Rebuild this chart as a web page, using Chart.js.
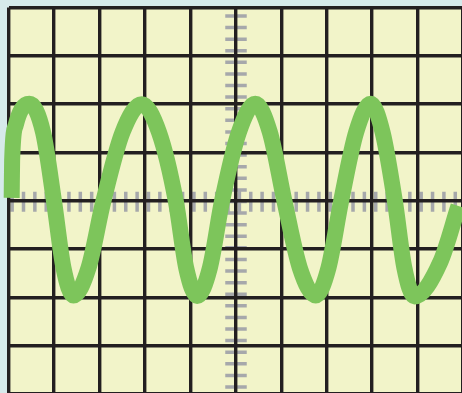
<!DOCTYPE html>
<html>
<head>
<meta charset="utf-8">
<script src="https://cdn.jsdelivr.net/npm/chart.js@4"></script>
<style>
  html, body { margin: 0; padding: 0; background: #d6eaeb; overflow: hidden; }
  #wrap { position: relative; width: 462px; height: 393px; overflow: hidden; }
  canvas { position: absolute; left: 0; top: 0; }
</style>
</head>
<body>
<div id="wrap"><canvas id="scope" width="480" height="410"></canvas></div>
<script>
// Trace samples: horizontal position in screen divisions, amplitude in vertical divisions
const timeDiv = [0.07, 0.08, 0.16, 0.29, 0.46, 0.76, 1.00, 1.21, 1.43, 1.76, 2.09, 2.51, 2.93,
                 3.31, 3.68, 3.91, 4.15, 4.43, 4.70, 5.07, 5.43, 5.75, 6.07, 6.41, 6.76, 7.04,
                 7.32, 7.65, 7.97, 8.23, 8.50, 8.71, 8.93, 9.50, 9.90];
const voltsDiv = [0.06, 0.84, 1.57, 1.90, 2.01, 1.42, 0.00, -1.39, -1.96, -1.39, 0.00, 1.42, 2.00,
                  1.42, 0.00, -1.39, -1.97, -1.39, 0.00, 1.42, 2.01, 1.42, 0.00, -1.39, -1.96, -1.39,
                  0.00, 1.42, 2.01, 1.42, 0.00, -1.39, -1.98, -1.27, -0.11];

// Graticule: 10 x 8 divisions
const xRange = [0, 10];
const yRange = [-4, 4];
const xCentre = 5;
const yCentre = 0;

// Minor marks along the centre axes
const xMinorStart = 0.08, xMinorStep = 0.25, xMinorCount = 40;
const yMinorStart = 3.825, yMinorStep = -0.24, yMinorCount = 33;

const tracePoints = timeDiv.map((t, i) => ({ x: t, y: voltsDiv[i] }));

// Screen face and centre-axis minor marks, painted beneath the grid lines
const screenFace = {
  id: 'screenFace',
  beforeDraw(chart) {
    const { ctx, chartArea: a, scales: { x, y } } = chart;
    ctx.save();
    ctx.fillStyle = '#d6eaeb';
    ctx.fillRect(0, 0, chart.width, chart.height);
    ctx.fillStyle = '#f2f4c9';
    ctx.fillRect(a.left, a.top, a.right - a.left, a.bottom - a.top);

    ctx.strokeStyle = '#a6a8ab';
    ctx.lineWidth = 3.5;
    ctx.lineCap = 'butt';
    const cy = y.getPixelForValue(yCentre);
    const cx = x.getPixelForValue(xCentre);
    ctx.beginPath();
    for (let k = 0; k < xMinorCount; k++) {
      const px = x.getPixelForValue(xMinorStart + k * xMinorStep);
      ctx.moveTo(px, cy - 9);
      ctx.lineTo(px, cy + 11);
    }
    for (let k = 0; k < yMinorCount; k++) {
      const py = y.getPixelForValue(yMinorStart + k * yMinorStep);
      ctx.moveTo(cx - 10.5, py);
      ctx.lineTo(cx + 11, py);
    }
    ctx.stroke();
    ctx.restore();
  }
};

new Chart(document.getElementById('scope'), {
  type: 'line',
  data: {
    datasets: [{
      data: tracePoints,
      borderColor: '#7dc55b',
      borderWidth: 16,
      borderCapStyle: 'butt',
      borderJoinStyle: 'round',
      cubicInterpolationMode: 'monotone',
      pointRadius: 0,
      fill: false,
      clip: false
    }]
  },
  options: {
    responsive: false,
    animation: false,
    events: [],
    devicePixelRatio: 1,
    layout: { padding: { left: 8.5, top: 7.5, right: 17, bottom: 16 } },
    plugins: { legend: { display: false }, tooltip: { enabled: false } },
    scales: {
      x: {
        type: 'linear',
        min: xRange[0], max: xRange[1],
        ticks: { display: false, stepSize: 1 },
        border: { display: false },
        grid: { color: '#231f20', lineWidth: 3.4, drawTicks: false }
      },
      y: {
        type: 'linear',
        min: yRange[0], max: yRange[1],
        ticks: { display: false, stepSize: 1 },
        border: { display: false },
        grid: { color: '#231f20', lineWidth: 3.4, drawTicks: false }
      }
    }
  },
  plugins: [screenFace]
});
</script>
</body>
</html>
